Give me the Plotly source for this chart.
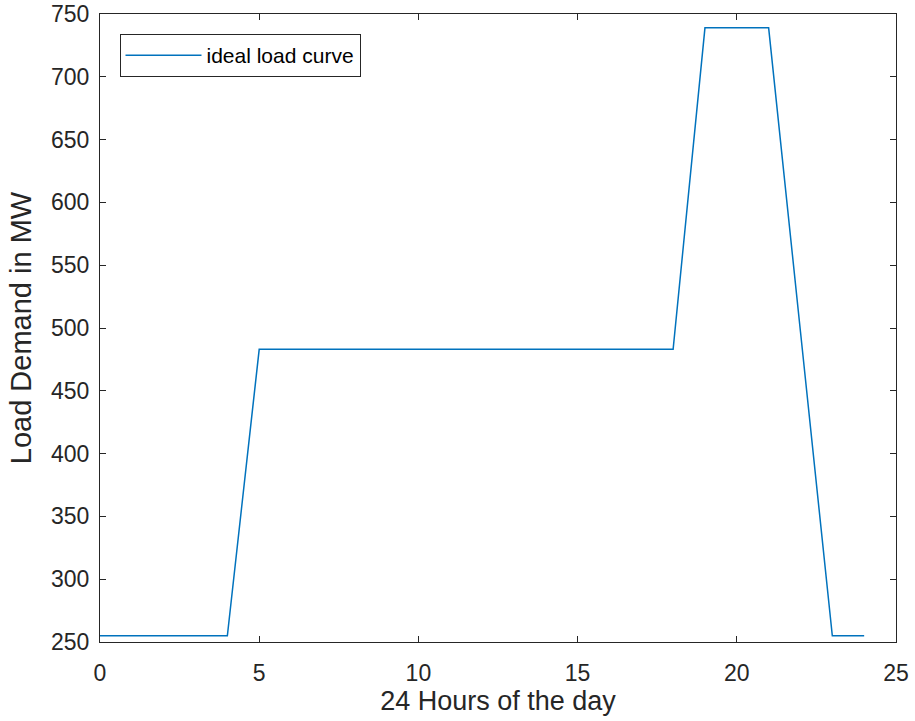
import plotly.graph_objects as go

hours = list(range(0, 25))
load_mw = [255, 255, 255, 255, 255,
           483, 483, 483, 483, 483, 483, 483, 483, 483, 483, 483, 483, 483, 483,
           739, 739, 739, 497, 255, 255]
series_name = "ideal load curve"
x_ticks = [0, 5, 10, 15, 20, 25]
y_ticks = [250, 300, 350, 400, 450, 500, 550, 600, 650, 700, 750]

FONT = "Liberation Sans, Arial, sans-serif"
INK = "#262626"

fig = go.Figure()
fig.add_trace(go.Scatter(x=hours, y=load_mw, mode="lines", name=series_name,
                         line=dict(color="#0072BD", width=1.5)))

axis_common = dict(showline=True, mirror="ticks", linecolor=INK, linewidth=1.2,
                   ticks="inside", ticklen=6, tickcolor=INK, showgrid=False,
                   zeroline=False, automargin=False,
                   tickfont=dict(family=FONT, size=23, color=INK))
fig.update_layout(
    width=915, height=721,
    margin=dict(l=100, r=19, t=14, b=79),
    paper_bgcolor="white", plot_bgcolor="white",
    xaxis=dict(range=[0, 25], tickvals=x_ticks, ticklabelstandoff=10,
               title=dict(text="24 Hours of the day", standoff=2,
                          font=dict(family=FONT, size=27, color=INK)),
               **axis_common),
    yaxis=dict(range=[250, 750], tickvals=y_ticks, ticklabelstandoff=5,
               title=dict(text="Load Demand in MW", standoff=10,
                          font=dict(family=FONT, size=29, color=INK)),
               **axis_common),
    showlegend=True,
    legend=dict(x=0.0245, y=0.968, xanchor="left", yanchor="top",
                bordercolor=INK, borderwidth=1, bgcolor="white",
                itemwidth=76,
                font=dict(family=FONT, size=21, color="#000000")),
)
fig.write_html("out.html", config={"displayModeBar": False},
               post_script="document.body.style.margin='0';document.body.style.overflow='hidden';")
